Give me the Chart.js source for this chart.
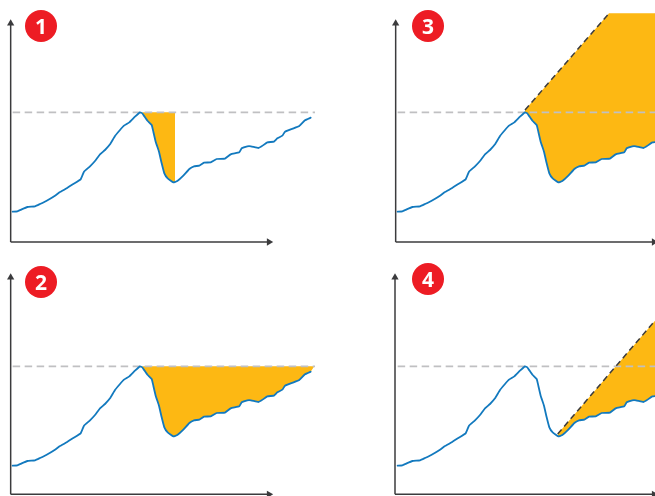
<!DOCTYPE html>
<html><head><meta charset="utf-8">
<style>
html,body{margin:0;padding:0;background:#fff;overflow:hidden;width:655px;height:496px}
.p{position:absolute}
.b{position:absolute;width:32px;height:32px;border-radius:50%;background:#ed1c24;color:#fff;font:700 21px/32px "Open Sans",sans-serif;text-align:center}
</style>
<script src="https://cdn.jsdelivr.net/npm/chart.js@4/dist/chart.umd.min.js"></script>
</head><body>
<canvas id="c1" class="p" style="left:0;top:0"></canvas>
<canvas id="c2" class="p" style="left:0;top:254px"></canvas>
<canvas id="c3" class="p" style="left:385px;top:0"></canvas>
<canvas id="c4" class="p" style="left:385px;top:254px"></canvas>
<div class="b" style="left:25px;top:10px">1</div>
<div class="b" style="left:25px;top:266px">2</div>
<div class="b" style="left:412px;top:10px">3</div>
<div class="b" style="left:412px;top:263px">4</div>
<script>
const seriesX=[6,20,33,50,73,88,108,133,148,168,188,210,220,238,253,268,283,298,313,328,340,356,373,388,395,405,411,423,428,435,445,453,461,471,488,500,518,536,550,566,580,600,618,643,660,686,693,710,721,743,753,770,790,800,815,823,846,866,883,900];
const seriesY=[91,92,98,105,107,114,124,139,150,161,174,188,211,227,243,263,276,293,318,336,349,359,376,389,386,371,363,351,331,301,271,236,206,191,179,183,199,219,227,229,238,239,249,250,263,269,281,287,287,282,287,299,301,311,319,331,340,348,365,373];
const levelY=389, levelX=[6,913];
const troughX=493, tipX=911;
const peakX=392;
const ray3X=[388,640,800], ray3Y=[396,686,686];
const ray4X=[486,778], ray4Y=[186,526];
const vArrowTop=656, hArrowEnd=775;
const YELLOW='#fdb813',BLUE='#1279be',GREY='#c0c0c2',DARK='#3b3b3d';
const series=seriesX.map((x,i)=>({x,y:seriesY[i]}));
const pts=(xs,ys)=>xs.map((x,i)=>({x,y:ys[i]}));
function panel(id,w,h,yMin,xMax,axisX,axisY,extras){
 const c=document.getElementById(id);c.width=w;c.height=h;c.style.width=w+'px';c.style.height=h+'px';
 const ds=[
  {data:series,borderColor:BLUE,borderWidth:1.8,order:1,tension:0.1,borderCapStyle:'round',borderJoinStyle:'round'},
  {data:pts(levelX,[levelY,levelY]),borderColor:GREY,borderWidth:1.7,borderDash:[7.5,4.5],order:3},
  {data:[{x:axisX,y:axisY},{x:axisX,y:vArrowTop}],borderColor:DARK,borderWidth:1.5,order:0,pointStyle:'triangle',pointRadius:[0,4.2],pointBackgroundColor:DARK,pointBorderWidth:0,pointRotation:0},
  {data:[{x:axisX,y:axisY},{x:hArrowEnd,y:axisY}],borderColor:DARK,borderWidth:1.5,order:0,pointStyle:'triangle',pointRadius:[0,4.2],pointBackgroundColor:DARK,pointBorderWidth:0,pointRotation:90},
  ...extras];
 new Chart(c,{type:'scatter',data:{datasets:ds},options:{responsive:false,animation:false,
  layout:{padding:0,autoPadding:false},events:[],
  elements:{point:{radius:0,hoverRadius:0},line:{tension:0}},
  datasets:{scatter:{showLine:true,clip:false}},
  plugins:{legend:{display:false},tooltip:{enabled:false}},
  scales:{x:{type:'linear',display:false,min:-32,max:xMax},y:{type:'linear',display:false,min:yMin,max:726}}}});
}
const sliceTo=(a,b)=>series.filter(p=>p.x>=a&&p.x<=b);
// panel 1: level down to the line, up to the trough
panel('c1',330,254,-36,958,0,0,[
 {data:sliceTo(peakX,troughX).map(p=>({x:p.x,y:levelY})).concat([{x:troughX,y:levelY}]),borderWidth:0,borderColor:'transparent',backgroundColor:YELLOW,fill:{target:5},order:5},
 {data:sliceTo(peakX,troughX).concat([{x:troughX,y:180}]),borderWidth:0,borderColor:'transparent',order:6}
]);
// panel 2: level down to the whole recovery
panel('c2',330,242,0,958,0,5,[
 {data:sliceTo(peakX,tipX).map(p=>({x:p.x,y:levelY})).concat([{x:tipX,y:levelY}]),borderWidth:0,borderColor:'transparent',backgroundColor:YELLOW,fill:{target:5},order:5},
 {data:sliceTo(peakX,tipX).concat([{x:tipX,y:levelY}]),borderWidth:0,borderColor:'transparent',order:6}
]);
// panel 3: ray from the peak
panel('c3',270,254,-36,778,0,0,[
 {data:pts(ray3X,ray3Y),borderWidth:0,borderColor:'transparent',backgroundColor:YELLOW,fill:{target:0},order:5},
 {data:pts(ray3X.slice(0,2),ray3Y.slice(0,2)),borderColor:DARK,borderWidth:1.5,borderDash:[6,4],order:2}
]);
// panel 4: ray from the trough
panel('c4',270,242,0,778,-2,5,[
 {data:pts(ray4X,ray4Y),borderWidth:0,borderColor:'transparent',backgroundColor:YELLOW,fill:{target:0},order:5},
 {data:pts(ray4X,ray4Y),borderColor:DARK,borderWidth:1.5,borderDash:[6,4],order:2}
]);
</script>
</body></html>
